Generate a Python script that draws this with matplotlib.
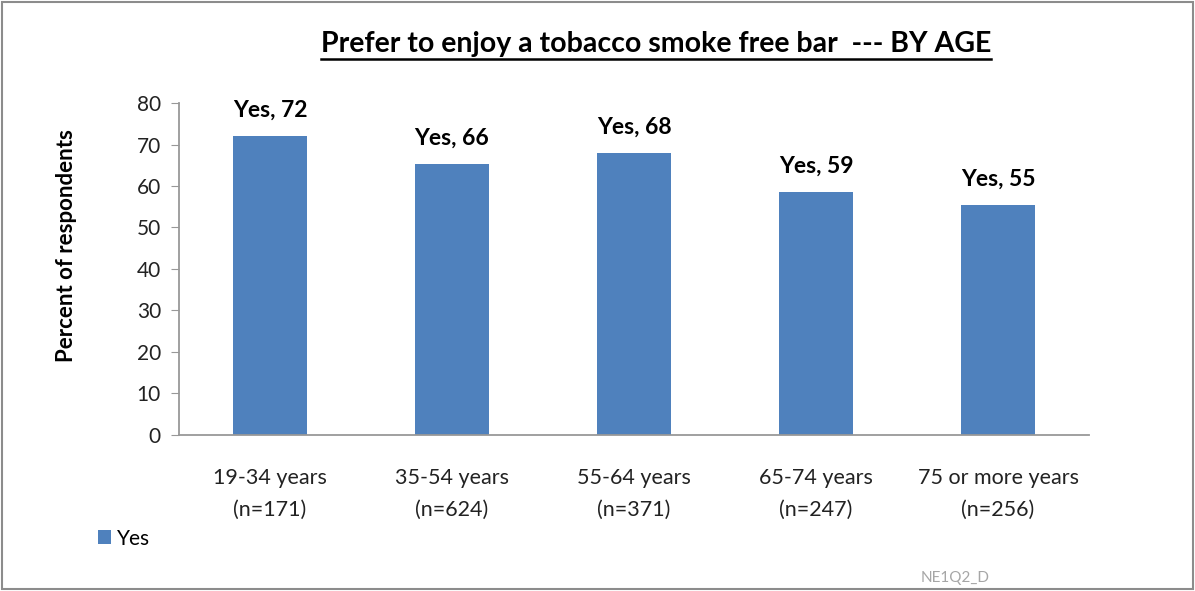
import numpy as np
import matplotlib
matplotlib.use("Agg")
import matplotlib.pyplot as plt
from matplotlib.patches import Rectangle
from matplotlib.lines import Line2D

plt.rcParams['font.family'] = ['Lato', 'DejaVu Sans']

# data
categories = ["19-34 years\n(n=171)", "35-54 years\n(n=624)", "55-64 years\n(n=371)",
              "65-74 years\n(n=247)", "75 or more years\n(n=256)"]
yes_values = [72.0, 65.3, 68.0, 58.5, 55.4]
yes_labels = [72, 66, 68, 59, 55]
series_name = "Yes"
bar_color = "#4F81BD"
axis_grey = "#989898"

fig = plt.figure(figsize=(11.95, 5.91), dpi=100)
ax = fig.add_axes([0.1498, 0.264, 0.7615, 0.5617])

x = np.arange(len(categories))
bars = ax.bar(x, yes_values, width=0.41, color=bar_color, label=series_name, zorder=2)

for xi, v, lab in zip(x, yes_values, yes_labels):
    ax.annotate(f"Yes, {lab}", (xi, v), xytext=(0, 11), textcoords="offset points",
                ha="center", va="bottom", fontsize=16.5, fontweight="bold", color="black")

ax.set_xlim(-0.5, len(categories) - 0.5)
ax.set_ylim(0, 80)
ax.set_yticks(np.arange(0, 81, 10))
ax.set_xticks(x)
ax.set_xticklabels(categories, fontsize=15.5, linespacing=1.75, color="#222222")
ax.tick_params(axis="x", length=0, pad=24)
ax.tick_params(axis="y", labelsize=15, length=6, color=axis_grey, pad=7, labelcolor="#222222")
for s in ["top", "right"]:
    ax.spines[s].set_visible(False)
for s in ["left", "bottom"]:
    ax.spines[s].set_color(axis_grey)
    ax.spines[s].set_linewidth(1.3)

ax.set_ylabel("Percent of respondents", fontsize=16, fontweight="bold")
ax.yaxis.set_label_coords(-0.112, 0.57)

# title with underline
ty = 0.912
title = fig.text(0.549, ty, "Prefer to enjoy a tobacco smoke free bar  --- BY AGE",
                 ha="center", va="baseline", fontsize=20.5, fontweight="bold")

leg = fig.legend(loc="lower left", bbox_to_anchor=(0.066, 0.04), frameon=False,
                 fontsize=15, handlelength=0.65, handleheight=0.65, handletextpad=0.3)

fig.text(0.799, 0.015, "NE1Q2_D", fontsize=11, color="#A6A6A6", ha="center", va="baseline")

# chart border
fig.patches.append(Rectangle((0.002, 0.003), 0.996, 0.993, transform=fig.transFigure,
                             fill=False, edgecolor="#8C8C8C", linewidth=1.5))

fig.canvas.draw()
bb = title.get_window_extent(fig.canvas.get_renderer()).transformed(fig.transFigure.inverted())
uy = ty - 0.011
fig.lines.append(Line2D([bb.x0, bb.x1], [uy, uy], transform=fig.transFigure,
                        color="black", linewidth=1.8))

fig.savefig("out.png", dpi=100)
